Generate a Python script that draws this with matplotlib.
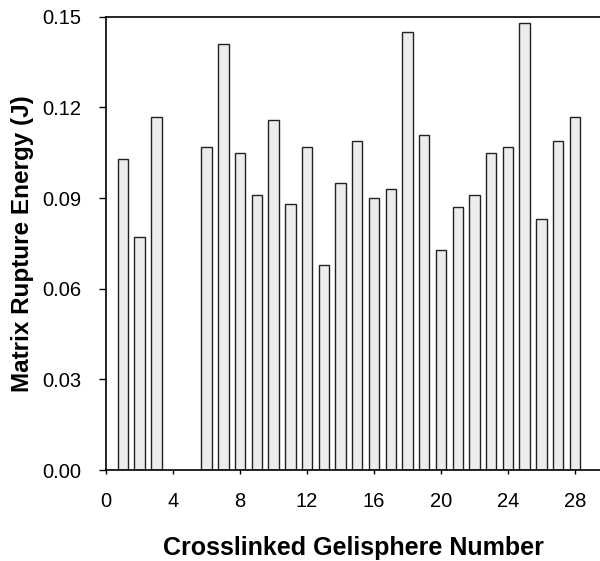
import matplotlib
matplotlib.use('Agg')
import matplotlib.pyplot as plt
import numpy as np

# Gelisphere numbers and their matrix rupture energies (J); 4 and 5 have no bar
spheres = [1, 2, 3, 6, 7, 8, 9, 10, 11, 12, 13, 14, 15, 16,
           17, 18, 19, 20, 21, 22, 23, 24, 25, 26, 27, 28]
energy = [0.103, 0.077, 0.117, 0.107, 0.141, 0.105, 0.091, 0.116, 0.088,
          0.107, 0.068, 0.095, 0.109, 0.090, 0.093, 0.145, 0.111, 0.073,
          0.087, 0.091, 0.105, 0.107, 0.148, 0.083, 0.109, 0.117]
x_ticks = [0, 4, 8, 12, 16, 20, 24, 28]
y_ticks = [0.00, 0.03, 0.06, 0.09, 0.12, 0.15]

plt.rcParams['font.family'] = ['Liberation Sans', 'DejaVu Sans']

fig = plt.figure(figsize=(6.0, 5.61), dpi=100)
ax = fig.add_axes([0.177, 0.162, 0.823, 0.808])

ax.bar(spheres, energy, width=0.62, facecolor='#ececec',
       edgecolor='#222222', linewidth=1.0)

ax.set_xlim(0, 29.5)
ax.set_ylim(0, 0.15)
ax.set_xticks(x_ticks)
ax.set_yticks(y_ticks)
ax.set_yticklabels(['%.2f' % v for v in y_ticks])

ax.spines['right'].set_visible(False)
for s in ['left', 'bottom', 'top']:
    ax.spines[s].set_linewidth(1.2)

ax.tick_params(axis='y', direction='out', length=5, width=1, pad=13, labelsize=14.5)
ax.tick_params(axis='x', direction='out', length=3, width=1, pad=13, labelsize=14.5)

ax.set_xlabel('Crosslinked Gelisphere Number', fontsize=18, fontweight='bold', labelpad=18)
ax.set_ylabel('Matrix Rupture Energy (J)', fontsize=17.5, fontweight='bold', labelpad=6)

plt.savefig('out.png', dpi=100)
